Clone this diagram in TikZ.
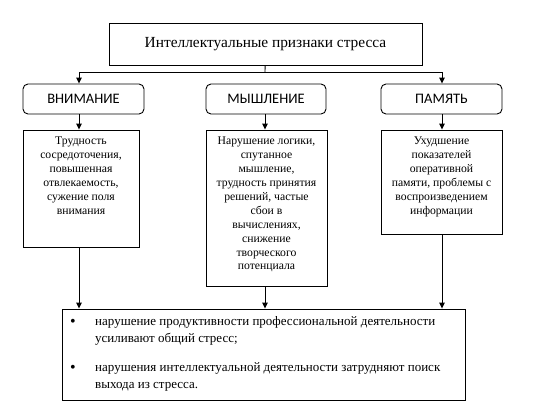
\documentclass[tikz,border=0pt]{standalone}
\usepackage{fontspec}
\setmainfont{Liberation Serif}
\newfontfamily\labelfont{Carlito}
\usetikzlibrary{arrows.meta}

\begin{document}
\begin{tikzpicture}[x=1pt, y=-1pt, >={Triangle[length=6pt,width=5.5pt]},
  link/.style={draw=black, line width=0.9pt},
  headbox/.style={shape=rectangle, draw=black, line width=0.9pt, rounded corners=5pt, minimum height=30pt, font=\labelfont\fontsize{14.5}{16}\selectfont},
  signbox/.style={shape=rectangle, draw=black, line width=0.9pt},
  signtext/.style={anchor=north, inner sep=0pt, align=center, font=\fontsize{11.7}{13.9}\selectfont},
  itemdot/.style={inner sep=0pt, font=\fontsize{16}{16}\selectfont},
  itemtext/.style={anchor=north west, inner sep=0pt, align=left, font=\fontsize{13}{17}\selectfont}]
\useasboundingbox (0,0) rectangle (536,416);
% top
\node[signbox, minimum width=313pt, minimum height=42pt, font=\fontsize{15.4}{17}\selectfont] (title) at (265.5,44) {Интеллектуальные признаки стресса};
% the three groups
\node[headbox, minimum width=121pt] (att) at (83.5,99) {ВНИМАНИЕ};
\node[headbox, minimum width=120pt] (thk) at (266,99) {МЫШЛЕНИЕ};
\node[headbox, minimum width=121pt] (mem) at (441.5,99) {ПАМЯТЬ};
\node[signbox, minimum width=116pt, minimum height=117pt] (attbox) at (81,188.5) {};
\node[signbox, minimum width=121pt, minimum height=156pt] (thkbox) at (266.5,208) {};
\node[signbox, minimum width=121pt, minimum height=104pt] (membox) at (441.5,182) {};
\node[signtext] (atttext) at (81,137) {Трудность\\ сосредоточения,\\ повышенная\\ отвлекаемость,\\ сужение поля\\ внимания};
\node[signtext] (thktext) at (266.5,137) {Нарушение логики,\\ спутанное\\ мышление,\\ трудность принятия\\ решений, частые\\ сбои в\\ вычислениях,\\ снижение\\ творческого\\ потенциала};
\node[signtext] (memtext) at (441.5,137) {Ухудшение\\ показателей\\ оперативной\\ памяти, проблемы с\\ воспроизведением\\ информации};
% bottom
\node[signbox, minimum width=403pt, minimum height=91pt] (sum) at (263.5,354.5) {};
\node[itemdot] (dot1) at (73,323) {\textbullet};
\node[itemdot] (dot2) at (73,369) {\textbullet};
\node[itemtext] (item1) at (95,316) {нарушение продуктивности профессиональной деятельности\\ усиливают общий стресс;};
\node[itemtext] (item2) at (95,362) {нарушения интеллектуальной деятельности затрудняют поиск\\ выхода из стресса.};
% connectors
\coordinate (fork) at (265,72);
\coordinate (forkL) at (79,72);
\coordinate (forkR) at (442,72);
\draw[link] (title) -- (fork);
\draw[link] (forkL) -- (forkR);
\draw[link,->] (forkL) -- (forkL |- att.north);
\draw[link,->] (forkR) -- (forkR |- mem.north);
\draw[link,->] (att.south -| forkL) -- (attbox.north -| forkL);
\draw[link,->] (thk.south -| fork) -- (thkbox.north -| fork);
\draw[link,->] (mem.south -| forkR) -- (membox.north -| forkR);
\draw[link,->] (attbox.south -| forkL) -- (sum.north -| forkL);
\draw[link,->] (thkbox.south -| fork) -- (sum.north -| fork);
\draw[link,->] (membox.south -| forkR) -- (sum.north -| forkR);
\end{tikzpicture}
\end{document}
